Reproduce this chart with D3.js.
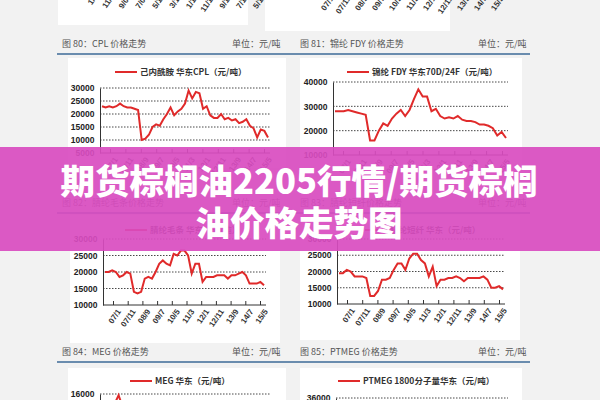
<!DOCTYPE html>
<html><head><meta charset="utf-8">
<script src="https://cdn.jsdelivr.net/npm/d3@7"></script>
<style>body{margin:0;background:#f2f2f2;overflow:hidden}svg{display:block}</style>
</head><body>
<svg id="c" width="600" height="400"></svg>
<script>
const dateLabels = ["07/1","07/11","08/9","09/7","10/5","11/3","12/1","12/11","13/9","14/7","15/5"];
const topLeftLabels = ["1/0","11/0","9/03","7/05","5/10","3/11","1/12","11/12","9/13","7/14","5/15"];
const cplValues = [23000,22500,23000,22500,23000,24000,23000,22500,22500,22000,21500,10000,10500,12000,15000,16000,15500,18000,20000,22500,19500,21000,22000,24000,29000,26000,28500,28000,22000,23000,19500,18500,18500,20000,18000,18500,17500,18000,16500,17000,18000,15500,14500,11000,14000,13500,11000];
const fdyValues = [28000,28000,28000,28500,28000,27500,27000,26500,16000,16000,20000,23000,22000,25000,27000,28500,26000,28500,33000,37000,34000,34000,28000,29000,26000,25000,25500,25000,26000,24500,24000,24000,23500,22500,22500,22000,21000,18000,19500,17000];
const topsValues = [20000,20000,20500,20000,18500,19000,20000,19500,14000,13500,14000,18000,18500,18000,20000,22500,23500,22500,22000,25500,25000,26500,26500,25000,19500,22500,22500,17000,18500,18500,18500,19000,19000,19000,18000,19000,19000,19500,20000,19000,16500,16500,16500,17000,16000];
const staplesValues = [19500,19500,20500,20000,18500,18500,18500,18000,12500,12500,14000,17500,17500,18000,20500,22500,22500,20500,24000,25500,25500,23500,22500,18500,21500,15500,17500,17500,18000,18000,18500,18000,17000,18000,18000,18000,18000,18500,17500,15000,15000,15500,14500];
const megValues = [12000,13000,15800,12000,11000,10000,11000,9000,8000,8500,9000,10000,11000,9000,8000,7000,8000,7500,7000,6500,6000];
const ptmegValues = [30000,32000,34000,30000,28000,26000,24000,22000,20000,21000,22000,20000,19000,18000,17000,16000,15000,14000,13000,12000];

const svg = d3.select("#c");
const cjk = "'Noto Sans CJK SC','Noto Sans',sans-serif";
const red = "#e02a2a";

svg.append("rect").attr("x",58).attr("y",0).attr("width",190).attr("height",25).attr("fill","#fff");
svg.append("rect").attr("x",265).attr("y",0).attr("width",185).attr("height",31).attr("fill","#fff");
function labelAxis(labels, x0, x1, y){
  const s = d3.scalePoint().domain(labels).range([x0,x1]);
  const g = svg.append("g").attr("transform",`translate(0,${y})`).call(d3.axisBottom(s).tickSize(0));
  g.select(".domain").remove();
  g.selectAll("text").attr("font-family","Arial,sans-serif").attr("font-size",8).attr("font-weight","bold").attr("fill","#333")
    .attr("text-anchor","end").attr("dy","0.3em").attr("dx","-0.2em").attr("transform","rotate(-55)");
}
labelAxis(topLeftLabels, 94, 262, -8);
labelAxis(dateLabels, 330, 500, -6);

function header(y, left, right){
  svg.append("line").attr("x1",57).attr("x2",530).attr("y1",y+9).attr("y2",y+9).attr("stroke","#3d6a97").attr("stroke-width",1.3);
  [[left,62,232],[right,300,478]].forEach(([t,x,ux])=>{
    svg.append("text").attr("x",x).attr("y",y+2).text(t).attr("font-family",cjk).attr("font-size",9).attr("fill","#555");
    svg.append("text").attr("x",ux).attr("y",y+2).text("单位：元/吨").attr("font-family",cjk).attr("font-size",9).attr("fill","#555");
  });
}
header(45,"图 80：CPL 价格走势","图 81：锦纶 FDY 价格走势");
header(204,"图 82：腈纶毛条价格走势","图 83：腈纶短纤价格走势");
header(353,"图 84：MEG 价格走势","图 85：PTMEG 价格走势");

function chart(o){
  svg.append("rect").attr("x",o.px).attr("y",o.py).attr("width",o.pw).attr("height",o.ph).attr("fill","#fff");
  const y = d3.scaleLinear().domain(o.domain).range([o.yb,o.yt]);
  const x = d3.scaleLinear().domain([0,o.data.length-1]).range([o.x0+2,o.x1-2]);
  const g = svg.append("g");
  o.ticks.forEach(t=>{ if(t!==o.domain[0]) g.append("line").attr("x1",o.x0).attr("x2",o.x1).attr("y1",y(t)).attr("y2",y(t)).attr("stroke","#333").attr("stroke-dasharray","1.5,1.5").attr("stroke-width",0.9);});
  const ya = svg.append("g").attr("transform",`translate(${o.x0},0)`).call(d3.axisLeft(y).tickValues(o.ticks).tickSize(0).tickFormat(d3.format("d")));
  ya.select(".domain").attr("stroke","#333");
  ya.selectAll("text").attr("font-family","Arial,sans-serif").attr("font-weight","bold").attr("font-size",8.5).attr("fill","#222").attr("dx","-0.3em");
  const xs = d3.scalePoint().domain(dateLabels).range([o.x0+10,o.x1-6]);
  const xa = svg.append("g").attr("transform",`translate(0,${o.yb})`).call(d3.axisBottom(xs).tickSize(-4).tickSizeOuter(0));
  xa.select(".domain").attr("d",`M${o.x0},0H${o.x1}`).attr("stroke","#333");
  xa.selectAll("line").attr("stroke","#333");
  xa.selectAll("text").attr("font-family","Arial,sans-serif").attr("font-size",8).attr("font-weight","bold").attr("fill","#333")
    .attr("text-anchor","end").attr("dy","0.9em").attr("dx","-0.1em").attr("transform","rotate(-55)");
  svg.append("path").datum(o.data).attr("d",d3.line().x((d,i)=>x(i)).y(d=>y(d))).attr("fill","none").attr("stroke",red).attr("stroke-width",2);
  svg.append("line").attr("x1",o.lx).attr("x2",o.lx+22).attr("y1",o.ly-3).attr("y2",o.ly-3).attr("stroke",red).attr("stroke-width",2);
  svg.append("text").attr("x",o.lx+25).attr("y",o.ly).text(o.legend).attr("font-family",cjk).attr("font-size",8.5).attr("font-weight","bold").attr("fill","#333");
}
chart({px:68,py:58,pw:218,ph:110,x0:100,x1:270,yt:88,yb:153,domain:[5000,30000],ticks:[5000,10000,15000,20000,25000,30000],data:cplValues,legend:"己内酰胺 华东CPL（元/吨）",lx:115,ly:75});
chart({px:300,py:58,pw:222,ph:110,x0:333,x1:508,yt:82,yb:155,domain:[10000,40000],ticks:[10000,20000,30000,40000],data:fdyValues,legend:"锦纶 FDY 华东70D/24F（元/吨）",lx:347,ly:75});
chart({px:70,py:215,pw:210,ph:128,x0:103,x1:266,yt:239,yb:305,domain:[10000,30000],ticks:[10000,15000,20000,25000,30000],data:topsValues,legend:"腈纶毛条 华东（元/吨）",lx:125,ly:233});
chart({px:300,py:215,pw:220,ph:125,x0:337,x1:505,yt:239,yb:304,domain:[10000,30000],ticks:[10000,15000,20000,25000,30000],data:staplesValues,legend:"腈纶短纤 华东（元/吨）",lx:365,ly:233});
chart({px:68,py:368,pw:218,ph:60,x0:100,x1:270,yt:394,yb:470,domain:[4000,16000],ticks:[4000,8000,12000,16000],data:megValues,legend:"MEG 华东（元/吨）",lx:130,ly:384});
chart({px:300,py:368,pw:222,ph:60,x0:336,x1:508,yt:398,yb:470,domain:[12000,36000],ticks:[12000,24000,36000],data:ptmegValues,legend:"PTMEG 1800分子量华东（元/吨）",lx:338,ly:384});

svg.append("rect").attr("x",0).attr("y",147).attr("width",600).attr("height",104).attr("fill","#d94cc0").attr("opacity",0.92);
[["期货棕榈油2205行情/期货棕榈",194],["油价格走势图",236]].forEach(([t,yy])=>{
  svg.append("text").attr("x",299).attr("y",yy).attr("text-anchor","middle").text(t)
    .attr("font-family",cjk).attr("font-weight","900").attr("font-size",34.5).attr("fill","#fff");
});
</script>
</body></html>
